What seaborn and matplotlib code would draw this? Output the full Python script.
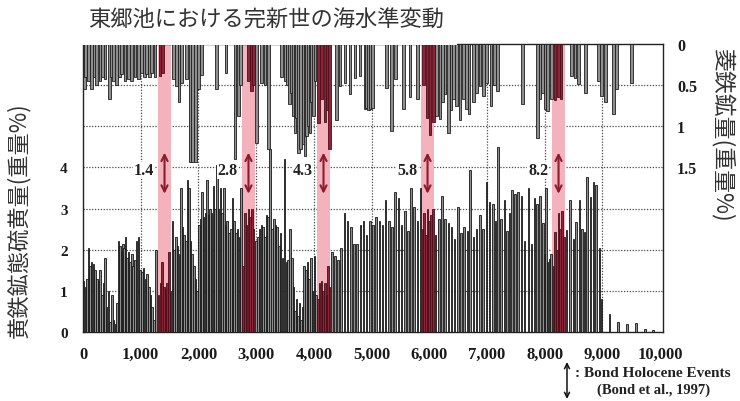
import numpy as np
import pandas as pd
import matplotlib
matplotlib.use("Agg")
import matplotlib.pyplot as plt
import seaborn as sns
from matplotlib.patches import Rectangle

# Pyrite sulphur content (wt%) by age (yr BP)
pyrite_age = [
    10, 40, 70, 95, 125, 150, 180, 210, 240, 270, 295, 325, 355, 380, 410, 440, 470, 500,
    530, 560, 590, 615, 640, 665, 690, 715, 740, 765, 790, 815, 845, 870, 900, 930, 960,
    990, 1020, 1050, 1080, 1110, 1140, 1170, 1200, 1230, 1265,
    1310, 1340, 1370, 1400, 1430, 1460, 1490, 1515,
    1550, 1580, 1610, 1640, 1670, 1700, 1725, 1750, 1780, 1810, 1835, 1860, 1890, 1920,
    1950, 1980, 2010, 2040, 2065, 2090, 2120, 2150, 2175, 2200, 2230, 2260, 2290, 2320,
    2350, 2380, 2410, 2440, 2470, 2500, 2530, 2560, 2590, 2620, 2650, 2680, 2710, 2735,
    2775, 2805, 2835, 2865, 2895, 2925, 2955,
    3000, 3030, 3060, 3090, 3120, 3150, 3180, 3210, 3245, 3275, 3305, 3335, 3365, 3395,
    3425, 3460, 3495, 3525, 3555, 3590, 3620, 3650, 3675, 3700, 3725, 3750, 3775, 3800,
    3830, 3860, 3890, 3920, 3950, 3980, 4010, 4035,
    4070, 4100, 4130, 4160, 4190, 4220, 4250, 4275,
    4310, 4365, 4420, 4475, 4530, 4585, 4640, 4695, 4750, 4805, 4860, 4915, 4970, 5025,
    5080, 5135, 5190, 5245, 5300, 5355, 5410, 5465, 5520, 5575, 5630, 5685, 5740, 5795, 5845,
    5880, 5910, 5940, 5970, 6000, 6030, 6060,
    6110, 6165, 6220, 6275, 6330, 6385, 6440, 6495, 6550, 6605, 6660, 6710, 6765, 6820,
    6875, 6930, 6990, 7045, 7100, 7150, 7195, 7245, 7300, 7350, 7390, 7430, 7485, 7540,
    7595, 7650, 7720, 7770, 7820, 7870, 7920, 7970, 8000, 8025, 8050, 8080, 8105,
    8150, 8180, 8210, 8240, 8270, 8300, 8330,
    8380, 8440, 8500, 8545, 8600, 8645, 8690, 8730, 8790, 8845, 8890, 8950, 8985,
    9120, 9270, 9430, 9580, 9740, 9880,
]
pyrite_pct = [
    1.25, 1.1, 1.3, 2.05, 1.6, 1.7, 1.65, 1.5, 1.3, 1.25, 1.5, 0.9, 1.2, 1.8, 0.6, 1.0, 0.25, 0.9,
    0.3, 0.2, 0.7, 2.2, 2.1, 1.95, 2.15, 2.05, 2.3, 1.8, 1.95, 1.7, 1.9, 1.6, 1.75, 2.2, 2.3,
    1.5, 1.45, 1.55, 1.3, 1.4, 1.1, 0.9, 0.6, 0.3, 2.0,
    0.9, 1.2, 1.7, 1.1, 1.05, 1.2, 1.95, 1.0,
    2.7, 2.0, 2.3, 2.1, 1.9, 3.5, 2.55, 2.35, 2.2, 3.7, 3.5, 2.2, 1.9, 1.6,
    1.3, 1.0, 2.6, 2.75, 3.4, 2.8, 2.9, 3.7, 2.85, 3.0, 2.9, 3.55, 3.0, 4.05,
    3.0, 3.5, 2.9, 3.5, 2.6, 2.7, 2.4, 2.5, 3.25, 2.7, 2.4, 2.5, 2.3, 3.5,
    1.6, 2.9, 2.6, 3.0, 2.8, 3.0, 2.5,
    2.2, 2.3, 2.5, 2.6, 2.55, 2.3, 2.85, 2.8, 4.45, 2.5, 2.75, 2.6, 2.55, 2.1,
    2.4, 1.8, 4.2, 1.7, 1.75, 2.5, 1.8, 1.1, 0.5, 0.8, 0.4, 0.7, 0.3, 0.6,
    1.6, 1.5, 1.7, 1.3, 1.8, 1.0, 1.85, 0.9,
    0.8, 1.2, 1.25, 1.0, 1.2, 0.9, 1.6, 1.1,
    1.94, 1.85, 1.75, 2.05, 2.9, 2.7, 2.55, 2.15, 2.15, 2.6, 2.7, 2.35, 2.7, 2.6,
    2.8, 2.7, 2.6, 3.2, 2.7, 2.55, 3.4, 3.25, 2.6, 2.95, 2.45, 3.5, 3.05, 2.7, 3.5,
    2.5, 2.9, 2.35, 3.0, 2.7, 2.85, 3.0,
    2.35, 2.75, 3.3, 2.75, 2.65, 2.55, 2.27, 3.04, 2.4, 2.55, 2.45, 3.93, 2.3, 2.5,
    2.84, 2.5, 3.65, 3.16, 3.1, 2.7, 4.5, 2.75, 3.2, 2.45, 2.9, 3.45, 3.35, 3.4,
    3.3, 2.2, 3.5, 2.15, 3.25, 3.1, 3.3, 2.65, 1.9, 3.5, 1.7, 1.78, 1.9,
    1.6, 2.43, 2.0, 2.9, 2.5, 2.95, 2.3,
    2.47, 3.2, 2.27, 2.67, 3.2, 2.5, 2.43, 3.77, 3.28, 3.65, 3.57, 2.05, 0.8,
    0.44, 0.24, 0.2, 0.22, 0.07, 0.05,
]

# Siderite content (wt%) by age (yr BP)
siderite_age = [
    20, 45, 92, 150, 200, 237, 295, 340, 381, 456, 490, 526, 583, 630, 670, 728, 786, 843,
    901, 959, 1017, 1060, 1103, 1150, 1190, 1248, 1335, 1380, 1565, 1623, 1664, 1710, 1797,
    1855, 1900, 1946, 1998, 2056, 2316, 2478, 2634, 2692, 2732, 2865, 2923, 2952, 3010,
    3097, 3155, 3212, 3443, 3500, 3540, 3576, 3616, 3645, 3674, 3703, 3732, 3772, 3818,
    3847, 3876, 3905, 3934, 3962, 3992, 4021, 4079, 4137, 4195, 4235, 4270, 4397, 4455,
    4541, 4628, 4715, 4801, 4888, 4918, 4948, 4978, 5010, 5262, 5349, 5418, 5551, 5667,
    5800, 5898, 5960, 6013, 6071, 6129, 6187, 6230, 6274, 6331, 6375, 6418, 6476, 6534,
    6592, 6649, 6690, 6765, 6823, 6881, 6938, 6996, 7071, 7130, 7187, 7614, 7880, 7920,
    7965, 8007, 8053, 8122, 8180, 8238, 8284, 8469, 8527, 8584, 8712, 8932, 8978, 9058,
    9191, 9249, 9509,
]
siderite_pct = [
    0.55, 0.4, 0.45, 0.55, 0.4, 0.5, 0.45, 0.4, 0.42, 0.67, 0.4, 0.45, 0.5, 0.4, 0.37, 0.45, 0.43, 0.45,
    0.4, 0.42, 0.35, 0.4, 0.37, 0.4, 0.35, 0.4, 0.39, 0.35, 0.42, 0.51, 0.71, 0.47, 0.43,
    1.44, 1.44, 1.44, 0.55, 0.38, 0.55, 0.35, 1.4, 0.87, 0.5, 0.45, 0.57, 0.5, 1.2,
    0.47, 0.5, 1.28, 0.4, 0.45, 0.5, 0.73, 0.6, 0.87, 1.08, 0.9, 1.32, 1.28, 1.22,
    1.36, 1.12, 1.0, 1.08, 0.7, 0.87, 0.45, 0.96, 0.67, 0.95, 0.8, 1.28, 0.92, 0.51,
    0.47, 0.61, 0.41, 0.39, 0.79, 0.78, 0.8, 0.79, 0.78, 0.53, 1.06, 0.43, 0.79, 0.65,
    0.67, 0.5, 0.9, 1.1, 0.95, 0.87, 0.91, 0.7, 0.61, 1.08, 0.8, 0.67, 0.75, 0.92,
    0.67, 0.79, 0.85, 0.71, 0.59, 0.51, 0.63, 0.47, 0.75, 0.5, 0.57, 0.73, 1.14, 0.67,
    0.6, 0.79, 0.81, 0.67, 0.68, 0.65, 0.67, 0.39, 0.41, 0.49, 0.59, 0.45, 0.63, 0.71,
    0.85, 0.55, 0.47,
]

# Bond Holocene events (ka) and the shaded age windows
event_labels = ["1.4", "2.8", "4.3", "5.8", "8.2"]
event_start = [1300, 2755, 4055, 5860, 8130]
event_end = [1525, 2980, 4280, 6080, 8350]

x_ticks = list(range(0, 10001, 1000))
x_tick_labels = [f"{v:,}" for v in x_ticks]
left_ticks = [0, 1, 2, 3, 4]
right_ticks = [0, 0.5, 1, 1.5]
right_tick_labels = ["0", "0.5", "1", "1.5"]
grid_x = list(range(1000, 10000, 1000))
grid_y = [1, 2, 3, 4, 5, 6]

BAND = "#f4b2bd"
EVENT_BAR = "#8e2438"
GREY_BAR = "#8e8e8e"
ARROW = "#8b1c2c"


def in_event(age):
    return any(s <= age <= e for s, e in zip(event_start, event_end))


def split(ages, vals):
    df = pd.DataFrame({"age": ages, "pct": vals})
    df["event"] = df["age"].apply(in_event)
    return df[~df["event"]], df[df["event"]]


def draw_bars(df, ax, years_wide, color, edge, lw):
    step = np.min(np.diff(np.sort(df["age"].unique())))
    sns.barplot(data=df, x="age", y="pct", native_scale=True, width=years_wide / step,
                color=color, edgecolor=edge, linewidth=lw, errorbar=None,
                ax=ax, zorder=3, saturation=1)


sns.set_theme(style="white")
plt.rcParams["font.family"] = ["Noto Sans CJK JP", "DejaVu Sans"]

fig = plt.figure(figsize=(7.4, 4.02), dpi=100)
ax = fig.add_axes([83 / 740, 1 - 333 / 402, 580 / 740, 288 / 402])
ax2 = ax.twinx()

# dotted grid and event windows
for gx in grid_x:
    ax.axvline(gx, color="#4a4a4a", lw=0.9, ls=(0, (1, 1.3)), zorder=0.5)
for gy in grid_y:
    ax.axhline(gy, color="#4a4a4a", lw=0.9, ls=(0, (1, 1.3)), zorder=0.5)
for s, e in zip(event_start, event_end):
    ax.axvspan(s, e, color=BAND, lw=0, zorder=1)

pyr_norm, pyr_evt = split(pyrite_age, pyrite_pct)
draw_bars(pyr_norm, ax, 27, GREY_BAR, "#161616", 0.6)
draw_bars(pyr_evt, ax, 27, EVENT_BAR, "#4a0d18", 0.6)

sid_norm, sid_evt = split(siderite_age, siderite_pct)
draw_bars(sid_norm, ax2, 48, GREY_BAR, "#1e1e1e", 0.6)
draw_bars(sid_evt, ax2, 48, EVENT_BAR, "#4a0d18", 0.6)

ax.set_xlim(0, 10050)
ax.set_ylim(0, 7)
ax2.set_ylim(3.5, 0)
for a in (ax, ax2):
    a.set_xlabel("")
    a.set_ylabel("")

tick_font = dict(family="Liberation Serif", weight="bold")
ax.set_xticks(x_ticks)
ax.set_xticklabels(x_tick_labels, fontsize=12, color="#1a1a1a", **tick_font)
ax.set_yticks(left_ticks)
ax.set_yticklabels([str(t) for t in left_ticks], fontsize=11, color="#1a1a1a", **tick_font)
ax2.set_yticks(right_ticks)
ax2.set_yticklabels(right_tick_labels, fontsize=11.5, color="#1a1a1a", **tick_font)
ax.tick_params(axis="x", length=0, pad=10)
ax.tick_params(axis="y", length=0, pad=11)
ax2.tick_params(axis="y", length=0, pad=10)

for sp in ax.spines.values():
    sp.set_visible(True)
    sp.set_color("#222222")
    sp.set_linewidth(1.0)
for sp in ax2.spines.values():
    sp.set_visible(False)

# event markers
for lab, s, e in zip(event_labels, event_start, event_end):
    c = (s + e) / 2
    ax.annotate("", xy=(c, 4.36), xytext=(c, 3.36),
                arrowprops=dict(arrowstyle="<->", color=ARROW, lw=1.5,
                                mutation_scale=11, shrinkA=0, shrinkB=0), zorder=6)
    ax.text(s - 70, 3.93, lab, ha="right", va="center", fontsize=11.5,
            color="#222222", zorder=6, **tick_font,
            bbox=dict(facecolor="white", edgecolor="none", pad=0.6))

fig.patches.append(Rectangle((75 / 740, 1 - 45.6 / 402), (457 - 75) / 740, 45.6 / 402,
                             transform=fig.transFigure, facecolor="white",
                             edgecolor="none", zorder=10))

fig.text(88 / 740, 1 - 20 / 402, "東郷池における完新世の海水準変動", ha="left", va="center",
         fontsize=16, color="#333333", zorder=11)
fig.text(18 / 740, 1 - 220 / 402, "黄鉄鉱態硫黄量(重量%)", rotation=90, ha="center",
         va="center", fontsize=16, color="#333333")
fig.text(722 / 740, 1 - 136 / 402, "菱鉄鉱量(重量%)", rotation=270, ha="center",
         va="center", fontsize=16.5, color="#333333")

# legend for the event arrows
ax.annotate("", xy=(567, 402 - 363), xytext=(567, 402 - 400), xycoords="figure pixels",
            textcoords="figure pixels", annotation_clip=False,
            arrowprops=dict(arrowstyle="<->", color="#111111", lw=1.1,
                            mutation_scale=9, shrinkA=0, shrinkB=0))
fig.text(575 / 740, 1 - 374 / 402, ": Bond Holocene Events", ha="left", va="center",
         fontsize=11, color="#222222", **tick_font)
fig.text(597 / 740, 1 - 390 / 402, "(Bond et al., 1997)", ha="left", va="center",
         fontsize=10.5, color="#222222", **tick_font)

fig.savefig("out.png", dpi=100, facecolor="white")
